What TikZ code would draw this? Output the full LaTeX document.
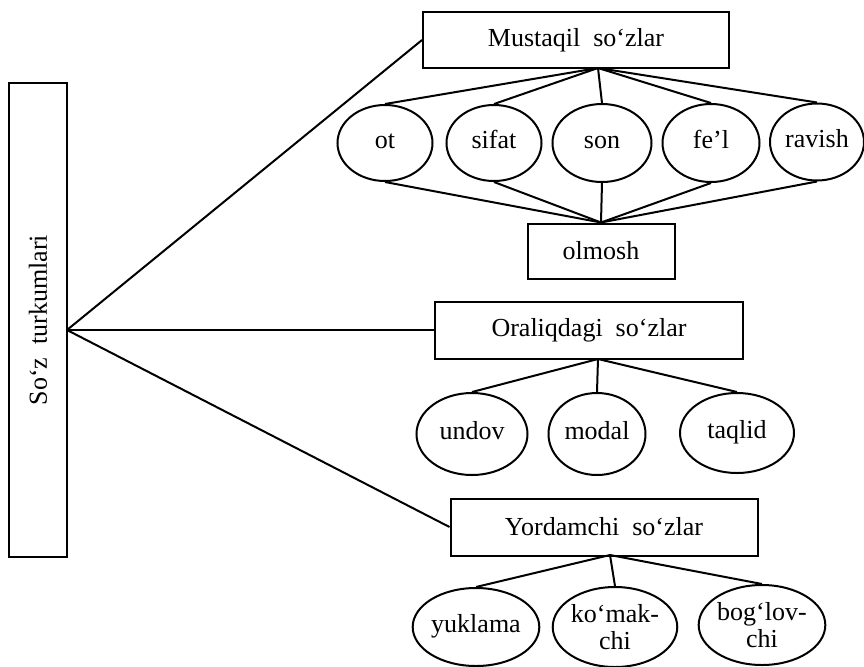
\documentclass[tikz,border=0pt]{standalone}
\usepackage{fontspec}
\setmainfont{Liberation Serif}
\usetikzlibrary{shapes.geometric}

\begin{document}
\begin{tikzpicture}[x=0.5pt,y=-0.5pt,line width=1pt,
		font=\fontsize{13}{13.5}\selectfont,
		box/.style={draw,rectangle,inner sep=0pt},
		oval/.style={draw,ellipse,inner sep=0pt,align=center},
		word/.style={oval,text height=1.55ex,text depth=0.35ex}]
	\useasboundingbox (0,0) rectangle (864,666);
	\node[box,rotate=90,minimum width=237pt,minimum height=29pt] (turk) at (38,320) {So‘z\ \ turkumlari};
	\coordinate (hub) at (67,330);
	% mustaqil
	\node[box,minimum width=153pt,minimum height=28pt] (must) at (576,40) {Mustaqil\ \ so‘zlar};
	\coordinate (mfork) at (598,68);
	\node[word,minimum width=47.5pt,minimum height=38pt] (ot) at (385,143) {ot};
	\node[word,minimum width=47.5pt,minimum height=38pt] (sifat) at (494,143) {sifat};
	\node[word,minimum width=49.5pt,minimum height=39pt] (son) at (602,143) {son};
	\node[word,minimum width=48.5pt,minimum height=39pt] (fel) at (711,143) {fe’l};
	\node[word,minimum width=47pt,minimum height=38.5pt] (ravish) at (817,142) {ravish};
	\node[box,minimum width=73.5pt,minimum height=27.5pt] (olmosh) at (601,251) {olmosh};
	% oraliqdagi
	\node[box,minimum width=154pt,minimum height=28.5pt] (oral) at (589,330) {Oraliqdagi\ \ so‘zlar};
	\coordinate (ofork) at (598,359);
	\node[word,minimum width=55.5pt,minimum height=41pt] (undov) at (472,434) {undov};
	\node[word,minimum width=48.5pt,minimum height=41pt] (modal) at (597,434) {modal};
	\node[word,minimum width=57pt,minimum height=40pt] (taqlid) at (737,433) {taqlid};
	% yordamchi
	\node[box,minimum width=153.5pt,minimum height=28.5pt] (yord) at (604,527) {Yordamchi\ \ so‘zlar};
	\coordinate (yfork) at (610,555);
	\node[word,minimum width=54pt,minimum height=39pt] (yuklama) at (476,627) {yuklama};
	\node[oval,minimum width=52pt,minimum height=40pt] (komak) at (615,627) {ko‘mak-\\chi};
	\node[oval,minimum width=55.5pt,minimum height=40pt] (boglov) at (762,625) {bog‘lov-\\chi};

	\draw (hub) -- (must.west);
	\draw (hub) -- (oral.west);
	\draw (hub) -- (yord.west);
	\foreach \n in {ot,sifat,son,fel,ravish}
		\draw (mfork) -- (\n.north) (\n.south) -- (olmosh.north);
	\foreach \n in {undov,modal,taqlid}
		\draw (ofork) -- (\n.north);
	\foreach \n in {yuklama,komak,boglov}
		\draw (yfork) -- (\n.north);
\end{tikzpicture}
\end{document}
